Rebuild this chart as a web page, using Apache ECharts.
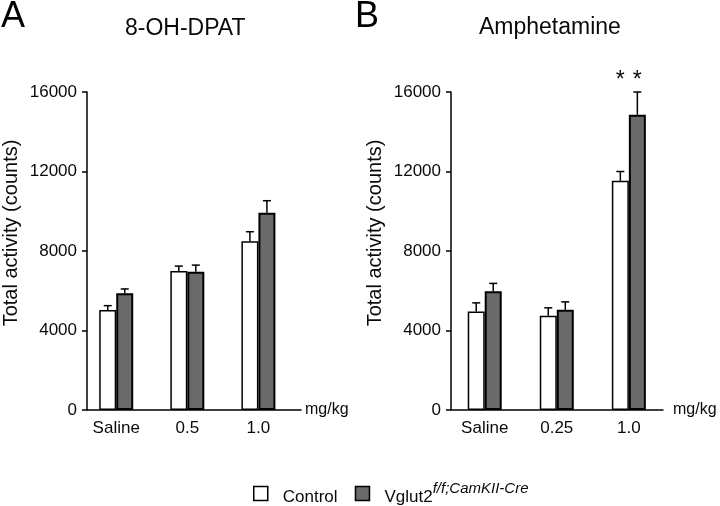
<!DOCTYPE html>
<html lang="en">
<head>
<meta charset="UTF-8">
<title>Total activity</title>
<script src="https://cdn.jsdelivr.net/npm/echarts@6/dist/echarts.min.js"></script>
<style type="text/css">
    html, body { margin: 0; padding: 0; background: #fff; }
    #chart { width: 720px; height: 506px; }
</style>
</head>
<body>
<div id="chart"></div>
<script>
// panel A: 8-OH-DPAT
var doseA = ['Saline', '0.5', '1.0'];
var ctrlA = [5030, 6990, 8490];
var ctrlSemA = [220, 250, 480];
var vgA = [5870, 6960, 9930];
var vgSemA = [220, 330, 600];
var sigA = [0, 0, 0];

// panel B: amphetamine
var doseB = ['Saline', '0.25', '1.0'];
var ctrlB = [4950, 4740, 11530];
var ctrlSemB = [440, 400, 470];
var vgB = [5970, 5040, 14860];
var vgSemB = [400, 400, 1140];
var sigB = [0, 0, 1];

var yTicks = [0, 4000, 8000, 12000, 16000];

var FONT = '"Liberation Sans", Arial, Helvetica, sans-serif';
var BAR_W = 17;
var GRAY = '#6a6a6a';
var INK = '#0a0a0a';

function pairs(vals) {
    return vals.map(function (v, i) { return [i, v]; });
}

function errRows(c, cs, v, vs, sig) {
    return c.map(function (m, i) { return [i, m, cs[i], v[i], vs[i], sig[i]]; });
}

// error bars (upper half only) + significance stars
function renderErr(params, api) {
    var i = api.value(0);
    var kids = [];
    var style = { stroke: '#000', lineWidth: 1.5 };
    var sides = [[1, 2, -1], [3, 4, 1]];
    var xs = [];
    sides.forEach(function (s) {
        var m = api.value(s[0]), e = api.value(s[1]);
        var base = api.coord([i, m]);
        var top = api.coord([i, m + e]);
        var cx = base[0] + s[2] * BAR_W / 2;
        xs.push(cx);
        kids.push({ type: 'line', shape: { x1: cx, y1: base[1], x2: cx, y2: top[1] }, style: style });
        kids.push({ type: 'line', shape: { x1: cx - 4, y1: top[1], x2: cx + 4, y2: top[1] }, style: style });
    });
    if (api.value(5)) {
        var hi = Math.max(api.value(1) + api.value(2), api.value(3) + api.value(4));
        var y = api.coord([i, hi])[1] - 11;
        xs.forEach(function (cx) {
            kids.push({ type: 'text', style: { text: '*', x: cx, y: y, align: 'center', verticalAlign: 'middle',
                font: '23px ' + FONT, fill: INK } });
        });
    }
    return { type: 'group', children: kids };
}

function xAxisOf(idx, cats, min, max, gap) {
    return {
        type: 'value', gridIndex: idx, min: min, max: max,
        name: 'mg/kg', nameLocation: 'end', nameGap: gap,
        nameTextStyle: { fontFamily: FONT, fontSize: 16, color: INK },
        axisLine: { show: true, onZero: false, lineStyle: { color: '#000', width: 1.5 } },
        axisTick: { show: false },
        splitLine: { show: false },
        axisLabel: {
            customValues: [0, 1, 2], margin: 10,
            fontFamily: FONT, fontSize: 17, color: INK,
            formatter: function (v) { return cats[Math.round(v)]; }
        }
    };
}

function yAxisOf(idx) {
    return {
        type: 'value', gridIndex: idx, min: yTicks[0], max: yTicks[yTicks.length - 1], interval: 4000,
        name: 'Total activity (counts)', nameLocation: 'middle', nameGap: 66,
        nameTextStyle: { fontFamily: FONT, fontSize: 20, color: INK, padding: [0, 0, 0, 36] },
        axisLine: { show: true, onZero: false, lineStyle: { color: '#000', width: 1.5 } },
        axisTick: { show: true, length: 5, lineStyle: { color: '#000', width: 1.5 } },
        splitLine: { show: false },
        axisLabel: { margin: 10, fontFamily: FONT, fontSize: 17, color: INK,
            formatter: function (v) { return String(v); } }
    };
}

function barSeries(name, idx, vals, fill, bw) {
    return {
        name: name, type: 'bar', xAxisIndex: idx, yAxisIndex: idx,
        barWidth: BAR_W, barGap: '0%',
        itemStyle: { color: fill, borderColor: '#000', borderWidth: bw },
        emphasis: { disabled: true },
        data: pairs(vals)
    };
}

var chart = echarts.init(document.getElementById('chart'));

chart.setOption({
    animation: false,
    backgroundColor: '#fff',
    title: [
        { text: 'A', left: -4, top: -6, textStyle: { fontFamily: FONT, fontSize: 36, fontWeight: 'normal', color: '#000' } },
        { text: '8-OH-DPAT', left: 120, top: 12,
            textStyle: { fontFamily: FONT, fontSize: 23, fontWeight: 'normal', color: INK } },
        { text: 'B', left: 350, top: -6, textStyle: { fontFamily: FONT, fontSize: 36, fontWeight: 'normal', color: '#000' } },
        { text: 'Amphetamine', left: 474, top: 11,
            textStyle: { fontFamily: FONT, fontSize: 23, fontWeight: 'normal', color: INK } }
    ],
    legend: {
        left: 248, top: 476,
        itemWidth: 14, itemHeight: 14, itemGap: 13,
        selectedMode: false,
        data: [
            { name: 'Control', icon: 'rect', itemStyle: { color: '#fff', borderColor: '#000', borderWidth: 1.5 } },
            { name: 'Vglut2', icon: 'rect', itemStyle: { color: GRAY, borderColor: '#000', borderWidth: 1.5 } }
        ],
        formatter: function (name) {
            if (name === 'Vglut2') return '{n|Vglut2}{s|f/f;CamKII-Cre}';
            return '{n|' + name + '}{s| }';
        },
        textStyle: {
            fontFamily: FONT, color: INK,
            rich: {
                n: { fontFamily: FONT, fontSize: 17, color: INK, padding: [0, 0, 0, 10], verticalAlign: 'bottom' },
                s: { fontFamily: FONT, fontSize: 15, fontStyle: 'italic', color: INK, padding: [0, 0, 10, 0], verticalAlign: 'top' }
            }
        }
    },
    grid: [
        { left: 87, right: 419, top: 92, bottom: 96 },
        { left: 451, right: 57, top: 92, bottom: 96 }
    ],
    xAxis: [
        xAxisOf(0, doseA, -0.411, 2.599, 4),
        xAxisOf(1, doseB, -0.468, 2.474, 10)
    ],
    yAxis: [yAxisOf(0), yAxisOf(1)],
    series: [
        barSeries('Control', 0, ctrlA, '#fff', 1.5),
        barSeries('Vglut2', 0, vgA, GRAY, 2),
        {
            type: 'custom', xAxisIndex: 0, yAxisIndex: 0, renderItem: renderErr,
            encode: { x: 0, y: [1, 3] }, silent: true, z: 3,
            data: errRows(ctrlA, ctrlSemA, vgA, vgSemA, sigA)
        },
        barSeries('Control', 1, ctrlB, '#fff', 1.5),
        barSeries('Vglut2', 1, vgB, GRAY, 2),
        {
            type: 'custom', xAxisIndex: 1, yAxisIndex: 1, renderItem: renderErr,
            encode: { x: 0, y: [1, 3] }, silent: true, z: 3,
            data: errRows(ctrlB, ctrlSemB, vgB, vgSemB, sigB)
        }
    ]
});
</script>
</body>
</html>
